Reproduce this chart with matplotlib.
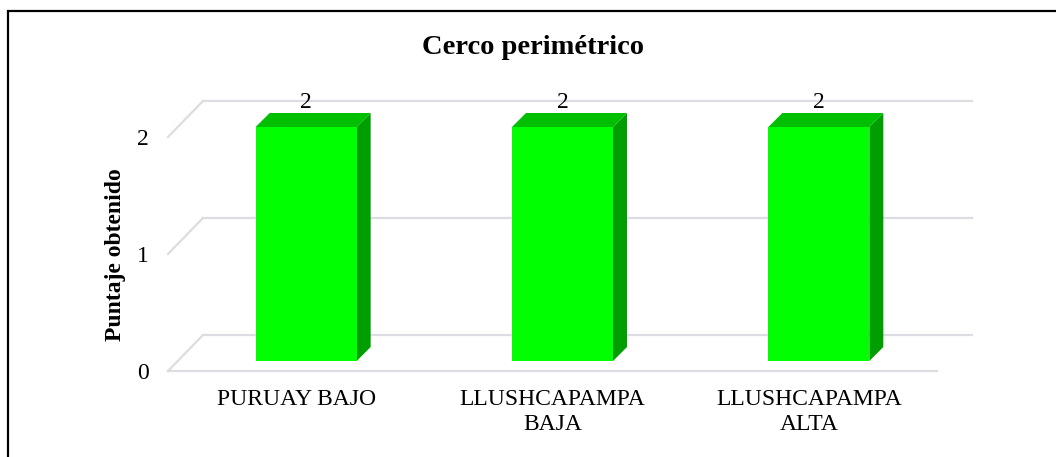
import matplotlib.pyplot as plt
from matplotlib.patches import Polygon, Rectangle
from matplotlib.lines import Line2D
from matplotlib.transforms import offset_copy

plt.rcParams["font.family"] = ["Liberation Serif", "DejaVu Serif"]

# data
categories = ["PURUAY BAJO", "LLUSHCAPAMPA\nBAJA", "LLUSHCAPAMPA\nALTA"]
values = [2, 2, 2]
y_ticks = [0, 1, 2]

front_color = "#00ff00"
side_color = "#009e00"
top_color = "#00bf00"
grid_color = "#dcdde3"

fig = plt.figure(figsize=(10.56, 4.57), dpi=100)
fig.patch.set_facecolor("white")

# front plane of the 3D plot
ax = fig.add_axes([168 / 1056, 86 / 457, 769 / 1056, 234 / 457])
ax.set_xlim(-0.5, 2.5)
ax.set_ylim(0, 2)
for s in ax.spines.values():
    s.set_visible(False)
ax.patch.set_alpha(0)

# depth offsets (pixels)
back = offset_copy(ax.transData, fig, x=35, y=36, units="dots")
bar_front = offset_copy(ax.transData, fig, x=10, y=10, units="dots")
bar_back = offset_copy(ax.transData, fig, x=24, y=24, units="dots")

# gridlines in perspective
x0, x1 = ax.get_xlim()
for v in y_ticks:
    # diagonal from front to back wall
    p_front = ax.transData.transform((x0, v))
    p_back = back.transform((x0, v))
    ax.add_line(Line2D([p_front[0], p_back[0]], [p_front[1], p_back[1]],
                       transform=None, color=grid_color, lw=1.6, zorder=1,
                       clip_on=False))
    ax.plot([x0, x1], [v, v], transform=back, color=grid_color, lw=1.6,
            zorder=1, clip_on=False)
ax.plot([x0, x1], [0, 0], color=grid_color, lw=1.6, zorder=1, clip_on=False)

# 3D bars
w = 0.394
for i, v in enumerate(values):
    l, r = i - w / 2, i + w / 2
    fl = bar_front.transform((l, 0))
    fr = bar_front.transform((r, 0))
    ftl = bar_front.transform((l, v))
    ftr = bar_front.transform((r, v))
    br = bar_back.transform((r, 0))
    btl = bar_back.transform((l, v))
    btr = bar_back.transform((r, v))
    side = Polygon([fr, br, btr, ftr], closed=True, transform=None,
                   facecolor=side_color, edgecolor="none", zorder=3,
                   clip_on=False)
    top = Polygon([ftl, ftr, btr, btl], closed=True, transform=None,
                  facecolor=top_color, edgecolor="none", zorder=3,
                  clip_on=False)
    front = Polygon([fl, fr, ftr, ftl], closed=True, transform=None,
                    facecolor=front_color, edgecolor="none", zorder=4,
                    clip_on=False)
    ax.add_patch(side)
    ax.add_patch(top)
    ax.add_patch(front)
    ax.annotate(str(v), (i, v), xytext=(10, 34), textcoords="offset pixels",
                ha="center", va="center", fontsize=17, zorder=5,
                annotation_clip=False)

ax.set_yticks(y_ticks)
ax.set_yticklabels([str(t) for t in y_ticks], fontsize=17)
ax.set_xticks(range(len(categories)))
ax.set_xticklabels(categories, fontsize=17, linespacing=1.25)
ax.tick_params(axis="y", length=0, pad=14)
ax.tick_params(axis="x", length=0, pad=13)

fig.text(116 / 1056, 1 - 255 / 457, "Puntaje obtenido", rotation=90,
         ha="center", va="center", fontsize=17, fontweight="bold")
fig.text(533 / 1056, 1 - 48 / 457, "Cerco perimétrico", ha="center",
         va="center", fontsize=20.5, fontweight="bold")

# chart border (right and bottom edges are cut off)
fig.patches.append(Rectangle((8 / 1056, -0.1), 1.1, 1 - 11 / 457 + 0.1,
                             transform=fig.transFigure, fill=False,
                             edgecolor="black", lw=1.6))

fig.savefig("out.png", dpi=100)
